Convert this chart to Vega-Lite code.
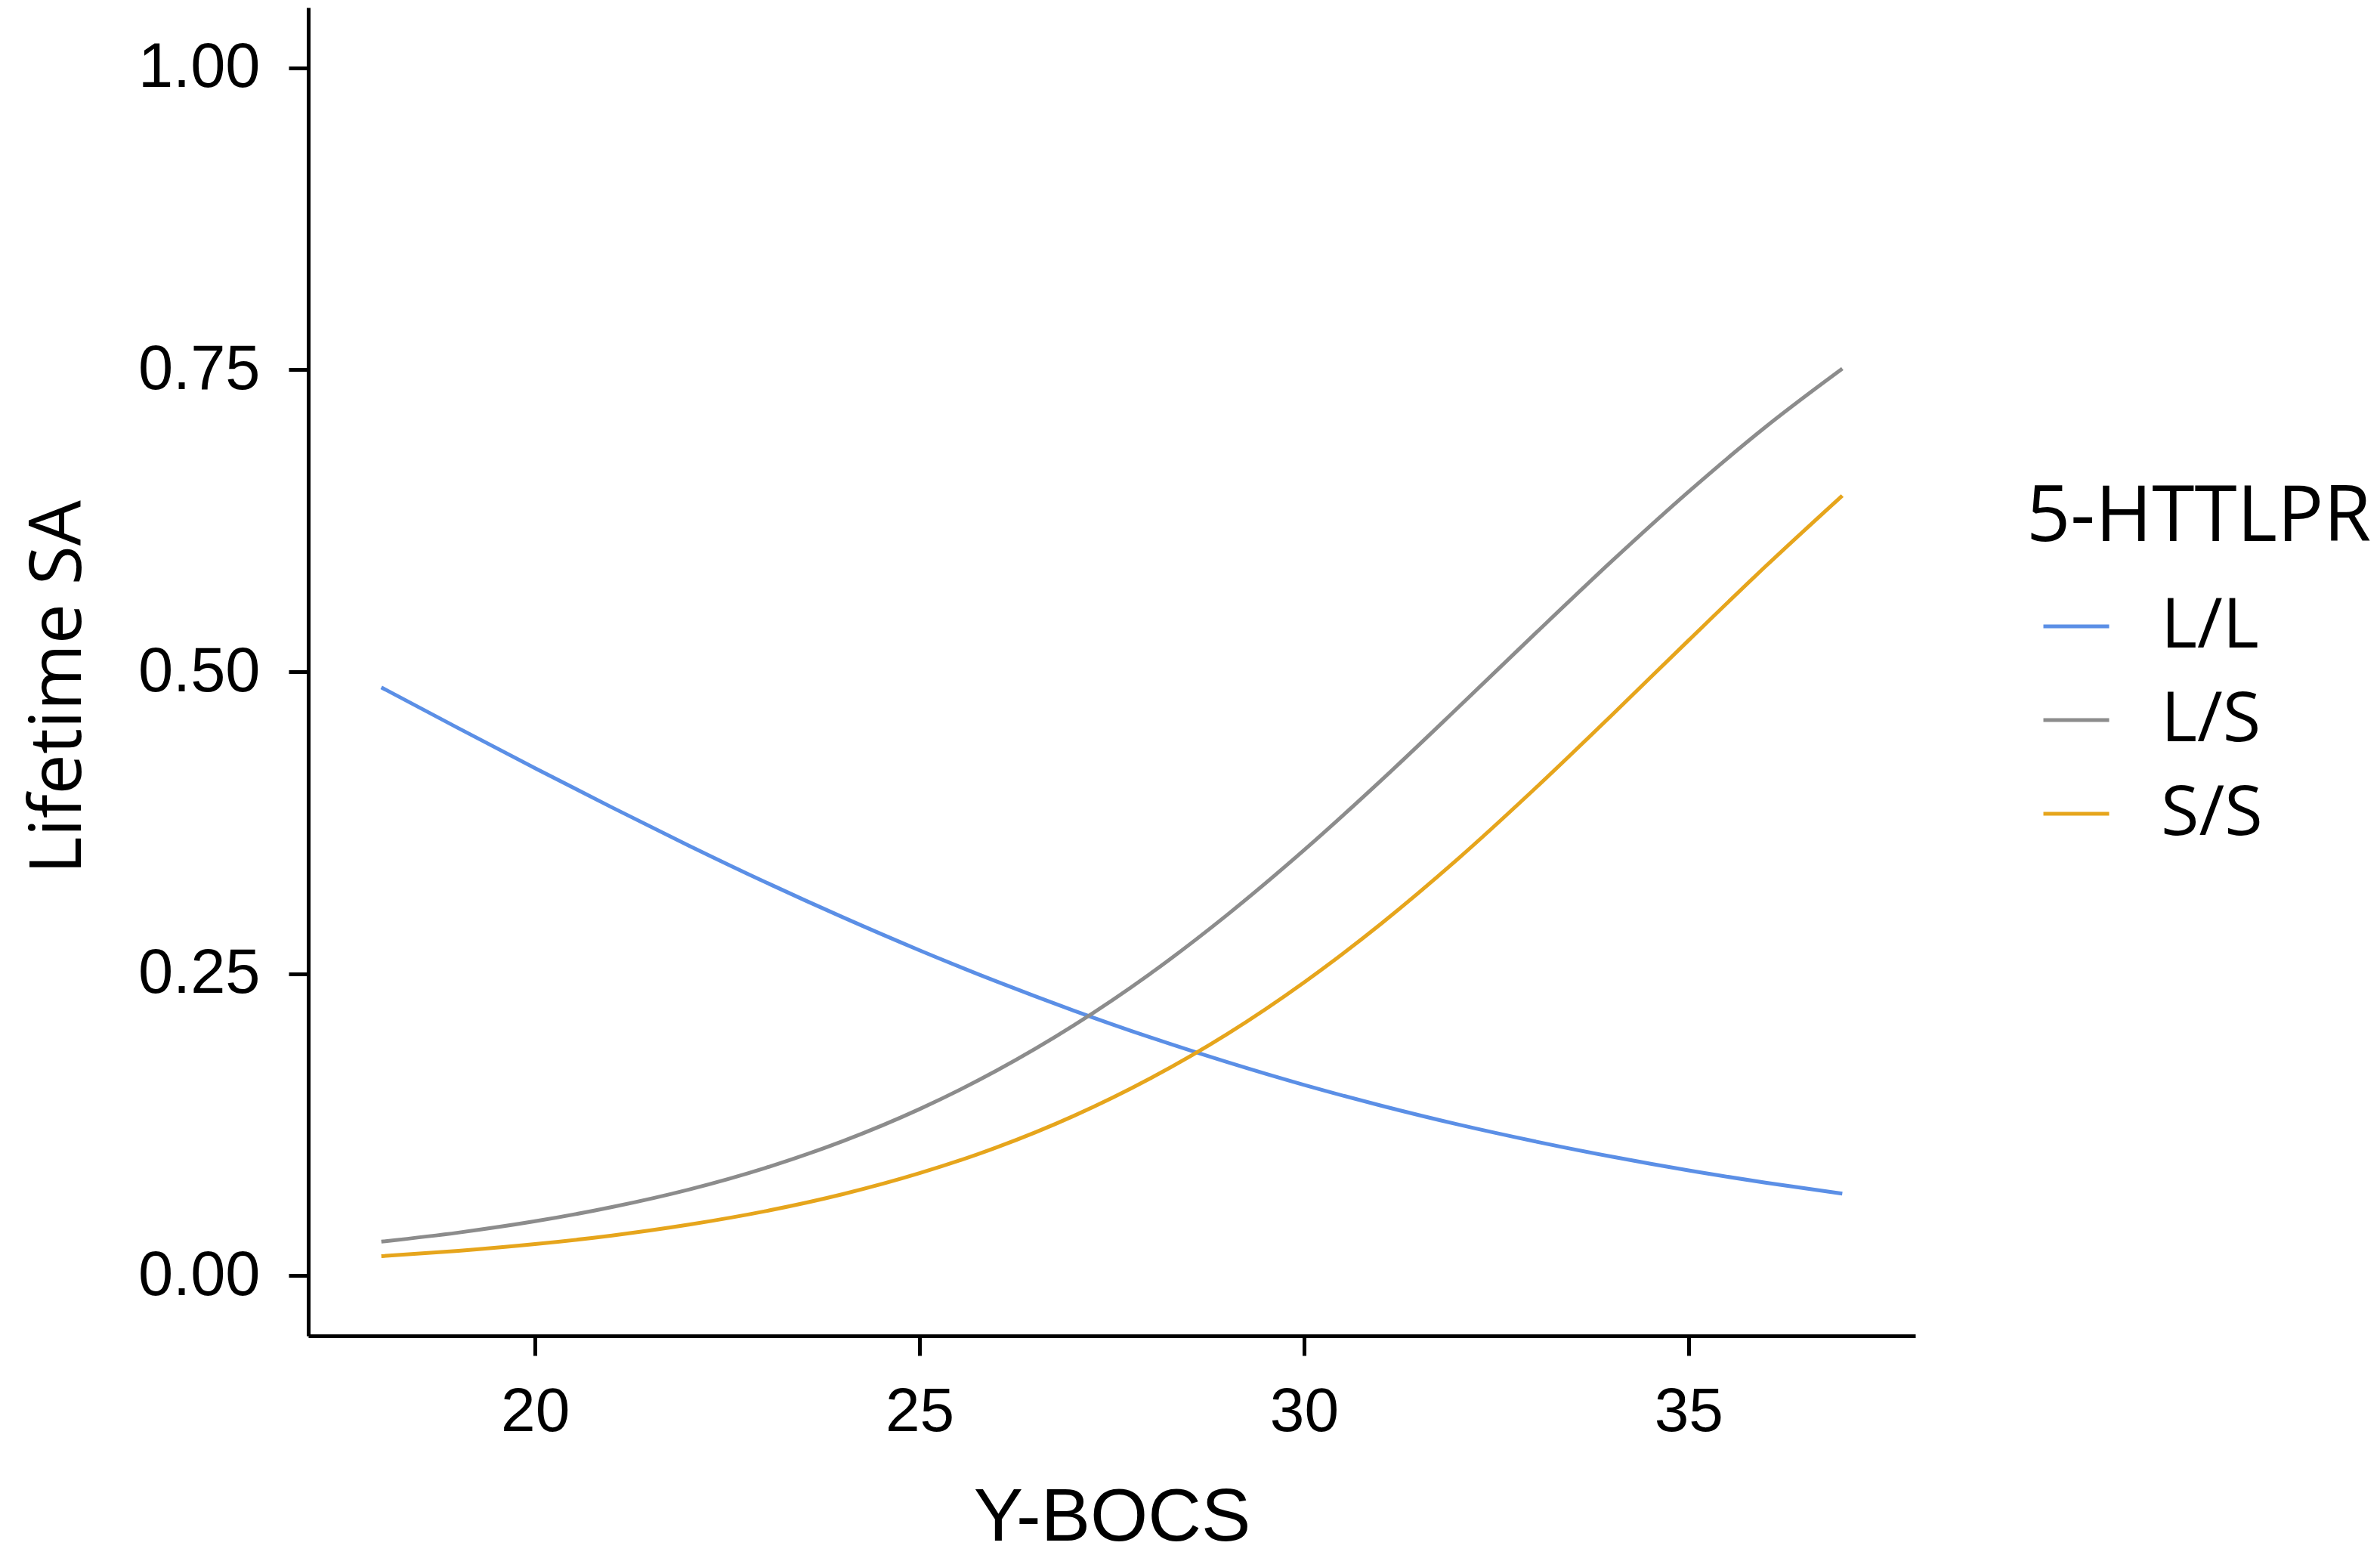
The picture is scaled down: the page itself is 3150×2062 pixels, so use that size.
{
  "$schema": "https://vega.github.io/schema/vega-lite/v6.json",
  "autosize": {"type": "none"},
  "width": 2127,
  "height": 1758,
  "padding": {"left": 408, "top": 10, "right": 615, "bottom": 294},
  "background": "white",
  "config": {
    "view": {"stroke": null},
    "axis": {"grid": false, "domainColor": "#000000", "tickColor": "#000000", "domainWidth": 5, "tickWidth": 5, "tickSize": 26, "labelColor": "#000000", "titleColor": "#000000"}
  },
  "data": {
    "values": [
      {"ybocs": 18, "genotype": "L/L", "sa": 0.487},
      {"ybocs": 19, "genotype": "L/L", "sa": 0.4533},
      {"ybocs": 20, "genotype": "L/L", "sa": 0.4201},
      {"ybocs": 21, "genotype": "L/L", "sa": 0.3876},
      {"ybocs": 22, "genotype": "L/L", "sa": 0.356},
      {"ybocs": 23, "genotype": "L/L", "sa": 0.3256},
      {"ybocs": 24, "genotype": "L/L", "sa": 0.2967},
      {"ybocs": 25, "genotype": "L/L", "sa": 0.2693},
      {"ybocs": 26, "genotype": "L/L", "sa": 0.2435},
      {"ybocs": 27, "genotype": "L/L", "sa": 0.2195},
      {"ybocs": 28, "genotype": "L/L", "sa": 0.1972},
      {"ybocs": 29, "genotype": "L/L", "sa": 0.1767},
      {"ybocs": 30, "genotype": "L/L", "sa": 0.1578},
      {"ybocs": 31, "genotype": "L/L", "sa": 0.1407},
      {"ybocs": 32, "genotype": "L/L", "sa": 0.1251},
      {"ybocs": 33, "genotype": "L/L", "sa": 0.1111},
      {"ybocs": 34, "genotype": "L/L", "sa": 0.0984},
      {"ybocs": 35, "genotype": "L/L", "sa": 0.087},
      {"ybocs": 36, "genotype": "L/L", "sa": 0.0769},
      {"ybocs": 37, "genotype": "L/L", "sa": 0.0678},
      {"ybocs": 18, "genotype": "L/S", "sa": 0.028},
      {"ybocs": 19, "genotype": "L/S", "sa": 0.0355},
      {"ybocs": 20, "genotype": "L/S", "sa": 0.0449},
      {"ybocs": 21, "genotype": "L/S", "sa": 0.0567},
      {"ybocs": 22, "genotype": "L/S", "sa": 0.0712},
      {"ybocs": 23, "genotype": "L/S", "sa": 0.0892},
      {"ybocs": 24, "genotype": "L/S", "sa": 0.1112},
      {"ybocs": 25, "genotype": "L/S", "sa": 0.1378},
      {"ybocs": 26, "genotype": "L/S", "sa": 0.1696},
      {"ybocs": 27, "genotype": "L/S", "sa": 0.2069},
      {"ybocs": 28, "genotype": "L/S", "sa": 0.2499},
      {"ybocs": 29, "genotype": "L/S", "sa": 0.2986},
      {"ybocs": 30, "genotype": "L/S", "sa": 0.3522},
      {"ybocs": 31, "genotype": "L/S", "sa": 0.4098},
      {"ybocs": 32, "genotype": "L/S", "sa": 0.4701},
      {"ybocs": 33, "genotype": "L/S", "sa": 0.5312},
      {"ybocs": 34, "genotype": "L/S", "sa": 0.5914},
      {"ybocs": 35, "genotype": "L/S", "sa": 0.649},
      {"ybocs": 36, "genotype": "L/S", "sa": 0.7026},
      {"ybocs": 37, "genotype": "L/S", "sa": 0.751},
      {"ybocs": 18, "genotype": "S/S", "sa": 0.016},
      {"ybocs": 19, "genotype": "S/S", "sa": 0.0204},
      {"ybocs": 20, "genotype": "S/S", "sa": 0.026},
      {"ybocs": 21, "genotype": "S/S", "sa": 0.0331},
      {"ybocs": 22, "genotype": "S/S", "sa": 0.0421},
      {"ybocs": 23, "genotype": "S/S", "sa": 0.0533},
      {"ybocs": 24, "genotype": "S/S", "sa": 0.0673},
      {"ybocs": 25, "genotype": "S/S", "sa": 0.0847},
      {"ybocs": 26, "genotype": "S/S", "sa": 0.106},
      {"ybocs": 27, "genotype": "S/S", "sa": 0.132},
      {"ybocs": 28, "genotype": "S/S", "sa": 0.1632},
      {"ybocs": 29, "genotype": "S/S", "sa": 0.1999},
      {"ybocs": 30, "genotype": "S/S", "sa": 0.2427},
      {"ybocs": 31, "genotype": "S/S", "sa": 0.2912},
      {"ybocs": 32, "genotype": "S/S", "sa": 0.3449},
      {"ybocs": 33, "genotype": "S/S", "sa": 0.403},
      {"ybocs": 34, "genotype": "S/S", "sa": 0.4639},
      {"ybocs": 35, "genotype": "S/S", "sa": 0.5259},
      {"ybocs": 36, "genotype": "S/S", "sa": 0.5871},
      {"ybocs": 37, "genotype": "S/S", "sa": 0.6458}
    ]
  },
  "mark": {"type": "line", "strokeWidth": 5, "interpolate": "monotone"},
  "encoding": {
    "x": {
      "field": "ybocs", "type": "quantitative",
      "scale": {"domain": [17.05, 37.95], "nice": false, "zero": false},
      "axis": {"title": "Y-BOCS", "values": [20, 25, 30, 35], "labelFont": "Liberation Sans", "labelFontSize": 82, "labelPadding": 34, "titleFont": "Liberation Sans", "titleFontSize": 98, "titleFontWeight": "normal", "titlePadding": 52}
    },
    "y": {
      "field": "sa", "type": "quantitative",
      "scale": {"domain": [-0.05, 1.05], "nice": false, "zero": false},
      "axis": {"title": "Lifetime SA", "values": [0, 0.25, 0.5, 0.75, 1], "format": ".2f", "labelFont": "Liberation Sans", "labelFontSize": 83, "labelPadding": 38, "titleFont": "Open Sans", "titleFontSize": 95, "titleFontWeight": "normal", "titlePadding": 82, "titleY": 899}
    },
    "color": {
      "field": "genotype", "type": "nominal",
      "scale": {"domain": ["L/L", "L/S", "S/S"], "range": ["#5B8FE6", "#8C8C8C", "#E6A51C"]},
      "legend": {
        "title": "5-HTTLPR", "orient": "none", "legendX": 2274, "legendY": 625,
        "titleFont": "Open Sans", "titleFontSize": 102, "titleFontWeight": "normal", "titleColor": "#000000", "titlePadding": 46, "titleLimit": 1000,
        "labelFont": "Open Sans", "labelFontSize": 92, "labelColor": "#000000", "labelOffset": 66, "labelLimit": 500,
        "symbolType": "stroke", "symbolStrokeWidth": 5, "symbolSize": 7569, "symbolOffset": 20, "rowPadding": 32
      }
    }
  }
}
